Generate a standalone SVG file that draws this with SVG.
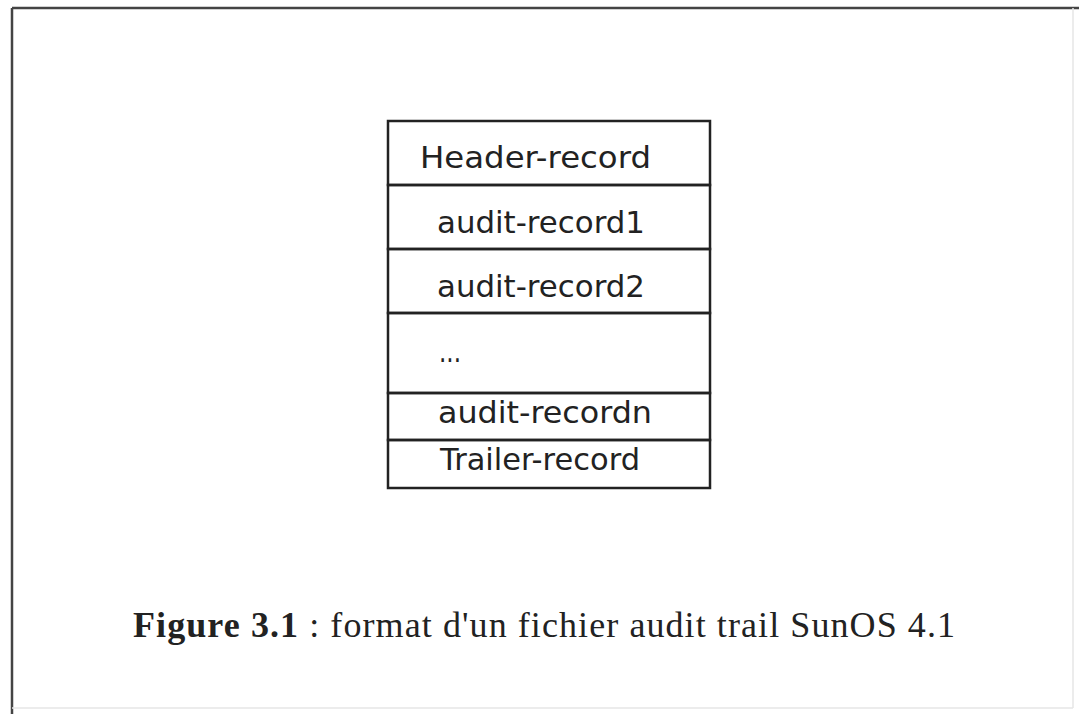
<svg xmlns="http://www.w3.org/2000/svg" width="1079" height="714" viewBox="0 0 1079 714">
<style>
.cell{fill:none;stroke:#222;stroke-width:2.5}
.lbl{font-family:"DejaVu Sans","Liberation Sans",sans-serif;font-size:30px;fill:#222}
.cap{font-family:"Liberation Serif","Times New Roman",serif;font-size:36px;fill:#222}
</style>
<rect width="1079" height="714" fill="#fff"/>
<g id="frame">
<line x1="12" y1="8" x2="1079" y2="8" stroke="#444" stroke-width="2.5"/>
<line x1="12" y1="8" x2="12" y2="714" stroke="#444" stroke-width="2.5"/>
<line x1="1073" y1="8" x2="1073" y2="708" stroke="#e6e6e6" stroke-width="1.5"/>
<line x1="12" y1="708" x2="1073" y2="708" stroke="#e6e6e6" stroke-width="1.5"/>
</g>
<g id="header-record"><rect class="cell" x="388" y="121" width="322" height="64"/><text class="lbl" x="420" y="168" textLength="231" lengthAdjust="spacingAndGlyphs">Header-record</text></g>
<g id="audit-record1"><rect class="cell" x="388" y="185" width="322" height="64"/><text class="lbl" x="437" y="233" textLength="208" lengthAdjust="spacingAndGlyphs">audit-record1</text></g>
<g id="audit-record2"><rect class="cell" x="388" y="249" width="322" height="64"/><text class="lbl" x="437" y="297" textLength="208" lengthAdjust="spacingAndGlyphs">audit-record2</text></g>
<g id="ellipsis"><rect class="cell" x="388" y="313" width="322" height="80"/><text class="lbl" x="439" y="362" textLength="22" lengthAdjust="spacingAndGlyphs">...</text></g>
<g id="audit-recordn"><rect class="cell" x="388" y="393" width="322" height="47"/><text class="lbl" x="438" y="423" textLength="214" lengthAdjust="spacingAndGlyphs">audit-recordn</text></g>
<g id="trailer-record"><rect class="cell" x="388" y="440" width="322" height="48"/><text class="lbl" x="440" y="470" textLength="200" lengthAdjust="spacingAndGlyphs">Trailer-record</text></g>
<g id="caption"><text class="cap" x="133" y="637" textLength="822"><tspan font-weight="bold">Figure 3.1</tspan> : format d'un fichier audit trail SunOS 4.1</text></g>
</svg>
